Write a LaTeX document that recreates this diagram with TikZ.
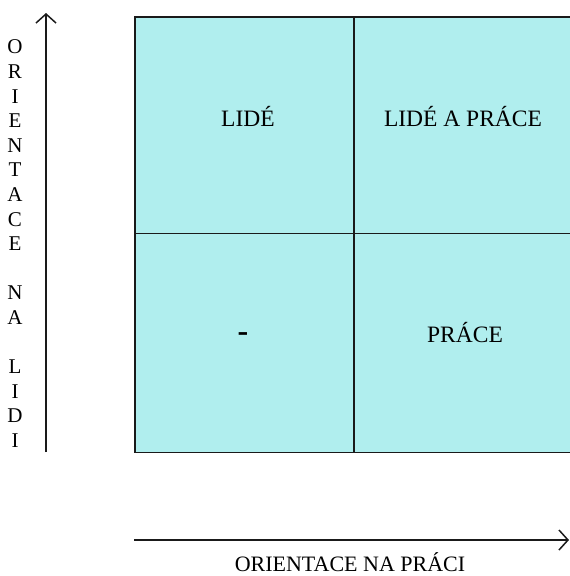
\documentclass[tikz,border=0pt]{standalone}
\usepackage{fontspec}
\setmainfont{Liberation Serif}
\usetikzlibrary{arrows.meta}
\definecolor{cellfill}{HTML}{B0EEEE}
\definecolor{linec}{HTML}{1A1A1A}
\tikzset{
  cell/.style={draw=linec, line width=1.6pt, fill=cellfill, minimum width=219pt, minimum height=219pt, inner sep=0pt, anchor=north west},
  axis/.style={draw=linec, line width=1.5pt, -{Straight Barb[length=9pt,width=20pt,line width=1.5pt]}},
  vletter/.style={font=\fontsize{21}{22}\selectfont, inner sep=0pt},
  celltext/.style={font=\fontsize{23.5}{24}\selectfont, inner sep=0pt, anchor=base},
  axlabel/.style={font=\fontsize{22}{24}\selectfont, inner sep=0pt, anchor=base}
}
\begin{document}
\begin{tikzpicture}[x=1pt,y=-1pt]
\useasboundingbox (0,0) rectangle (570,576);
\begin{scope}
\clip (0,0) rectangle (570,576);
\node[cell] (c11) at (134,16) {};
\node[cell] (c12) at (353,16) {};
\node[cell] (c21) at (134,232.5) {};
\node[cell] (c22) at (353,232.5) {};
\end{scope}
\node[celltext] (t11) at (248,126) {LIDÉ};
\node[celltext] (t12) at (463,126) {LIDÉ A PRÁCE};
\node[font=\fontsize{32}{32}\selectfont\bfseries, inner sep=0pt] (t21) at (243,337) {-};
\node[celltext] (t22) at (465,342.5) {PRÁCE};
% vertical axis
\coordinate (vs) at (46,452);
\coordinate (ve) at (46,13);
\draw[axis] (vs) -- (ve);
% horizontal axis
\coordinate (hs) at (134,540);
\coordinate (he) at (569,540);
\draw[axis] (hs) -- (he);
\node[axlabel] (hl) at (350,571) {ORIENTACE NA PRÁCI};
% vertical letters
\foreach \ch/\k in {O/0,R/1,I/2,E/3,N/4,T/5,A/6,C/7,E/8,N/10,A/11,L/13,I/14,D/15,I/16}{
  \node[vletter] (v\k) at (15,47+24.6*\k) {\ch};
}
\end{tikzpicture}
\end{document}
